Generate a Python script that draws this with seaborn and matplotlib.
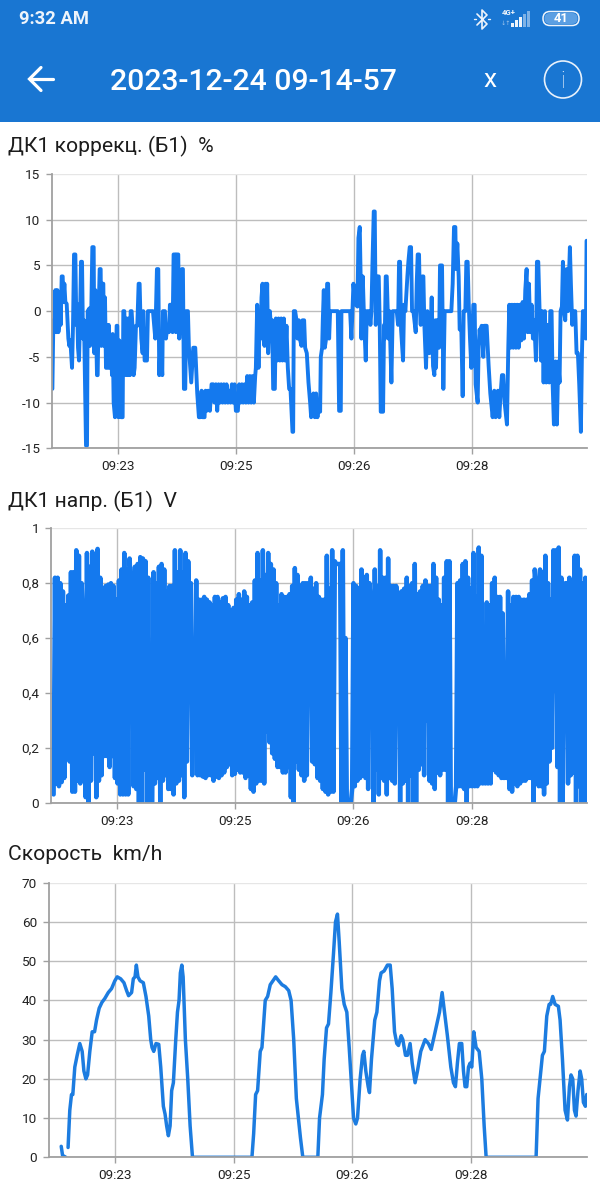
import numpy as np
import pandas as pd
import seaborn as sns
import matplotlib.pyplot as plt
from matplotlib.patches import Rectangle, Circle, FancyBboxPatch

# correction log: sample number from 09:23:00, about 3.93 samples per second
corr_samples = [-198, -195, -192, -189, -185, -183, -180, -177, -175, -173, -170, -167, -165, -162, -159, -155, -150, -147, -144, -139,
    -136, -133, -129, -126, -124, -121, -118, -115, -112, -109, -106, -103, -97, -94, -92, -87, -85, -81, -78, -74,
    -72, -69, -64, -62, -59, -56, -53, -51, -48, -45, -43, -40, -37, -35, -31, -29, -25, -22, -19, -17,
    -14, -10, -5, -3, 0, 3, 8, 13, 15, 18, 23, 25, 29, 31, 35, 37, 40, 43, 46, 49,
    53, 57, 61, 64, 66, 69, 73, 75, 79, 86, 89, 104, 111, 116, 120, 123, 127, 132, 134, 140,
    143, 148, 152, 155, 160, 163, 166, 171, 173, 175, 180, 183, 187, 191, 194, 197, 201, 204, 209, 212,
    219, 225, 231, 237, 242, 246, 250, 253, 259, 262, 265, 270, 275, 280, 285, 289, 293, 297, 301, 305,
    309, 313, 317, 321, 325, 329, 333, 337, 341, 345, 349, 353, 359, 363, 367, 371, 375, 379, 383, 387,
    391, 395, 399, 403, 407, 411, 413, 417, 421, 424, 427, 430, 433, 436, 439, 442, 444, 447, 450, 455,
    458, 462, 465, 470, 473, 477, 481, 485, 489, 493, 497, 501, 505, 509, 513, 517, 523, 525, 527, 531,
    535, 538, 542, 545, 550, 553, 558, 561, 566, 571, 576, 579, 586, 590, 594, 598, 602, 606, 608, 612,
    614, 617, 620, 624, 627, 630, 633, 636, 659, 663, 668, 670, 696, 700, 703, 706, 711, 718, 721, 725,
    728, 730, 734, 738, 743, 746, 754, 757, 760, 763, 767, 770, 773, 777, 782, 785, 788, 795, 798, 800,
    803, 806, 809, 811, 814, 820, 824, 836, 840, 843, 846, 849, 855, 858, 862, 868, 871, 875, 879, 882,
    886, 893, 896, 899, 903, 906, 908, 913, 916, 919, 924, 928, 934, 937, 941, 945, 949, 952, 954, 957,
    963, 966, 972, 976, 980, 1000, 1004, 1008, 1012, 1014, 1018, 1022, 1025, 1030, 1034, 1037, 1042, 1045, 1049, 1052,
    1056, 1060, 1066, 1070, 1073, 1079, 1082, 1085, 1087, 1091, 1096, 1099, 1106, 1112, 1117, 1124, 1129, 1133, 1140, 1144,
    1148, 1152, 1156, 1160, 1163, 1167, 1171, 1174, 1178, 1182, 1186, 1190, 1194, 1198, 1202, 1206, 1210, 1214, 1218, 1222,
    1226, 1229, 1233, 1237, 1241, 1245, 1249, 1254, 1257, 1261, 1265, 1269, 1273, 1277, 1281, 1285, 1289, 1294, 1297, 1301,
    1304, 1308, 1313, 1317, 1321, 1325, 1328, 1332, 1335, 1338, 1342, 1346, 1350, 1356, 1359, 1363, 1367, 1372, 1376, 1380,
    1384, 1389, 1392, 1395, 1399, 1404, 1406]
corr_values = [-8.5, -1, -2.3, 2.3, -2.3, 2.3, -2.3, -1.5, 1.5, -1.5, 3.8, 3.8, 1, 3, 1, 0.8, -3, -3.8, -3.2, -6.2,
    -1.5, 6.2, 6.2, -1.5, 0.8, -4, -5.4, -1, 5.4, 5.4, -3, -1, -14.7, -14.7, 0, 0.3, -3.8, 0.5, 7, 7,
    -4.6, 2.3, -7, -7, 0, 4.6, 4.6, -3.8, 3, 3, -3.8, 1.5, -6.2, -1.5, -6.2, -1.5, -6.2, -3.2, -7, -2.5,
    -10, -11.6, -1.6, -1.6, -11.6, -3.2, -11.6, -11.6, 0, 0, -7, -0.8, -7, -0.8, -7, 0, 0, -2, -7, -6.2,
    -1.6, -1.6, 3, 3, 0, -3, -4.6, 0, -5.4, -5.4, 0, 0, -3, 4.6, 4.6, -7, -3, -7, 0, 0,
    -3, -1.5, -2.3, 0.7, 0.7, -2.3, 6.2, 6.2, -2.3, 6.2, 6.2, -3, 0.7, 4.6, 4.6, -8.5, -8.5, 0, 0, -4,
    -7.8, -4, -4, -9, -11.6, -11.6, -8.7, -11.6, -11.6, -8.7, -10.9, -8.7, -10.9, -8, -8, -10, -8, -10.9, -8, -10,
    -8, -10, -8, -10, -8, -10, -8.7, -10, -8, -10, -8, -10.9, -10.9, -8, -10, -8, -10, -8, -10, -7.1,
    -10, -7.1, -10, -7.1, -10, -7.1, -6.2, 0.7, -6.2, -1.5, -3, 1.5, 3, -3, -3.8, 3, -1.5, 3, -4.6, 0,
    -1.5, -1, -8.5, -8.5, -0.8, -5.4, -0.8, -5.4, -0.8, -5.4, -0.8, -5.4, -1.6, -6.2, -8.5, -8.5, -13.2, -13.2, 0, 0,
    -1, -3, -1, -3, -3.8, -1, -1, -4, -4.6, -7.8, -10, -11.6, -9, -11.6, -9, -11.6, -10, -11, -5, -4,
    -1, 2.3, -4, -3, 3, 3, -3, 0, 0, -10.9, -10.9, 0, 0, -3, 0, 3, 0.8, 0.5, 8, 9.2,
    3, -3, 3.8, -1, -5.4, 0, 0, -1.5, 0, 5, 10.9, 10.9, -1.5, 3.8, 3.8, -1.5, -11, -11, -1.5, -3,
    3.8, 3.8, 0, -3, 0, -7.8, 0, 0, -1.5, 5.4, 5.4, -2, -5.4, 0.7, 0, 3.8, 5.4, 7, 7, 0,
    0, -2.3, 3, 6.2, 6.2, 0, -1.5, 3.8, 3.8, -1.5, -6.2, 0, -4.6, -3, 1.5, -6, -7, -1, -6.2, -1,
    -4, 5, 5, -8.5, 0, 0, 3, 9.2, 9.2, 4.6, 7.4, 3.8, -2, -2, -9.3, 0, 0, 5.4, 5.4, 1,
    -3, -6.2, 0.7, 0.7, -8, -10, -3.8, -2, -3, -1.6, -5, -1.6, -1.6, -6, -9, -11.6, -8.7, -11.6, -8.7, -11.6,
    -9, -7, -7, -10, -11, -12.4, -4, 0.7, -4, 0.7, -4, 0.7, -4, 0.7, -4, 0.7, -3.2, 1, -3, 2.3,
    4.6, -2.3, 3, -2.3, 0.7, -3, -1, -5.4, 5.4, 5.4, 0, -5.4, 0, -7.8, 0, -7.8, -1.5, -7.8, 0, 0,
    -7.8, -12.4, -5.5, -12.4, -5.5, -7.8, 0, 0.5, 5.4, 0, -1, 4.6, 0, 7, 3, -1.5, 0, 0, -4.6, -4.6,
    -8, -13.2, -5, 0, 0, -3, 7.7]

# voltage swings faster than the picture resolves: one low and one high per column
volt_low = [0.03, 0.07, 0.06, 0.075, 0.09, 0.26, 0.15, 0.04, 0.04, 0.08, 0.07, 0.67, 0.02, 0, 0.08, 0.18, 0.02, 0.08, 0.10, 0.17,
    0.17, 0.13, 0.17, 0.09, 0.07, 0.03, 0.03, 0.03, 0.03, 0.78, 0.06, 0.05, 0, 0, 0.12, 0, 0, 0, 0.07, 0.09,
    0, 0.08, 0.10, 0.05, 0.05, 0.03, 0.07, 0.08, 0.10, 0.02, 0.15, 0.60, 0.10, 0.27, 0.10, 0.10, 0.095, 0.09, 0.10, 0.10,
    0.08, 0.095, 0.09, 0.10, 0.11, 0.13, 0.14, 0.10, 0.105, 0.12, 0.11, 0.11, 0.09, 0.10, 0.05, 0.04, 0.07, 0.08, 0.08, 0.07,
    0.26, 0.22, 0.18, 0.16, 0.13, 0.13, 0.11, 0.11, 0.13, 0.02, 0, 0.15, 0.12,
    0.10, 0.08, 0.10, 0.70, 0.15, 0.14, 0.09, 0.08, 0.05, 0.04, 0.03, 0.04, 0.04, 0.87, 0.87, 0, 0, 0, 0, 0.05, 0.06,
    0.08, 0.09, 0.10, 0.09, 0.05, 0.72, 0, 0.12, 0.03, 0.09, 0.08, 0.03, 0.09, 0.08, 0.07, 0.76, 0, 0.07, 0.08, 0,
    0.10, 0, 0, 0.12, 0.14, 0.10, 0.30, 0.08, 0.07, 0.05, 0.11, 0.10, 0.12, 0.12, 0, 0, 0, 0.06, 0.06, 0.06,
    0.05, 0, 0.06, 0.06, 0.06, 0.06, 0.07, 0.07, 0.07, 0.07, 0.07, 0.12, 0.11, 0.10, 0.09, 0.09, 0.09, 0.05, 0.04, 0.07,
    0.06, 0.07, 0.08, 0.08, 0.09, 0.09, 0, 0.80, 0.06, 0.06, 0.03, 0.07, 0.15, 0.20, 0.41, 0.13, 0, 0, 0.80, 0.07,
    0.10, 0.11, 0, 0.06, 0, 0.08, 0, 0.10]
volt_high = [0.82, 0.82, 0.80, 0.77, 0.72, 0.755, 0.84, 0.84, 0.92, 0.90, 0.80, 0.67, 0.91, 0.86, 0.915, 0.75, 0.925, 0.82, 0.77, 0.79,
    0.795, 0.80, 0.79, 0.74, 0.81, 0.85, 0.91, 0.85, 0.89, 0.78, 0.86, 0.87, 0.895, 0.89, 0.88, 0.82, 0, 0.84, 0.80, 0.86,
    0.87, 0.85, 0.77, 0.79, 0.79, 0.92, 0.84, 0.92, 0.84, 0.91, 0.88, 0.80, 0.55, 0.81, 0.74, 0.74, 0.75, 0.74, 0.73, 0.72,
    0.75, 0.75, 0.73, 0.745, 0.75, 0.72, 0.70, 0.71, 0.74, 0.76, 0.74, 0.77, 0.75, 0.72, 0.73, 0.81, 0.91, 0.81, 0.92, 0.83,
    0.91, 0.87, 0.85, 0.80, 0.72, 0.76, 0.75, 0.75, 0.76, 0.79, 0.855, 0.83, 0.79,
    0.80, 0.80, 0.80, 0.82, 0.78, 0.80, 0.75, 0.74, 0.74, 0.90, 0.78, 0.92, 0.88, 0.87, 0.87, 0.92, 0.60, 0, 0, 0.80, 0.79,
    0.78, 0.85, 0.82, 0.83, 0.80, 0.72, 0.85, 0.79, 0.92, 0.82, 0.82, 0.89, 0.79, 0.79, 0.79, 0.76, 0.77, 0.78, 0.82, 0.79,
    0.80, 0.87, 0.76, 0.77, 0.79, 0.81, 0.79, 0.79, 0.87, 0.82, 0.74, 0.72, 0.82, 0.88, 0.88, 0, 0, 0.80, 0.81, 0.87,
    0.88, 0.82, 0.78, 0.91, 0.75, 0.93, 0.90, 0.55, 0.73, 0.72, 0.80, 0.82, 0.75, 0.75, 0.69, 0.50, 0.77, 0.72, 0.75, 0.75,
    0.75, 0.74, 0.74, 0.74, 0.76, 0.81, 0.85, 0.80, 0.85, 0.84, 0.90, 0.80, 0.74, 0.92, 0.92, 0.93, 0.82, 0.62, 0.80, 0.82,
    0.75, 0.90, 0.90, 0.85, 0.80, 0.82, 0.78, 0.78]

# speed in seconds from 09:23:00, the trace has a short break near the start
speed_start_t = [-41, -40, -37.5]
speed_start_v = [2.8, 0.5, 0]
speed_t = [-35.8, -34.5, -33.2, -32.2, -30.7, -28.9, -26.9, -25.1, -23.8, -22.3, -21, -19.3, -17.5, -15.7, -14.2, -12.2, -10.1, -7.9, -5.3, -2.8,
    -0.3, 1.5, 4.1, 6.6, 8.6, 10.1, 12.4, 13.7, 15, 16, 17.2, 18.8, 21.3, 23.3, 25.4, 26.9, 27.9, 29.2, 30.9, 33,
    34.5, 36.5, 37.8, 39, 40.3, 41.6, 42.8, 44.1, 45.9, 47.2, 48.4, 49.4, 50.5, 51.5, 53.2, 55, 56.8, 58.6, 103.7, 105,
    106.5, 108, 110, 111.3, 113.8, 115.6, 117.6, 119.7, 121.7, 124, 126.5, 129, 131.6, 133.4, 135.4, 137.4, 140.5, 142.3, 153.7, 155,
    157.2, 158.5, 160.3, 161.8, 163.6, 165.6, 167.1, 168.6, 169.9, 171.9, 173.7, 175.7, 177.5, 179, 180.8, 182.5, 183.8, 185.8, 187.6, 188.6,
    190.1, 191.9, 192.9, 194.4, 196.9, 198.5, 200.5, 201.7, 204, 206.5, 208.6, 210.1, 211.9, 213.6, 214.9, 216.9, 218.2, 220.2, 221.7, 223.7,
    225.3, 227.5, 229.3, 231.8, 235.1, 237.6, 239.7, 241.4, 244, 246, 248, 249.8, 252, 254.6, 256.6, 258.1, 259.6, 261.1, 262.9, 264.2,
    265.4, 266.7, 268, 269.2, 270.5, 272, 273.8, 276.1, 278.1, 279.9, 281.4, 319.3, 320.8, 322.3, 324.1, 325.6, 327.4, 329.2, 330.4, 331.9,
    333.7, 336.2, 337.5, 339.3, 341.3, 343.1, 344.6, 345.8, 347.1, 348.4, 349.6, 351.1, 352.7, 353.9, 355.2, 356.7, 357.7]
speed_v = [2.5, 12, 16, 16, 23, 26, 29, 27, 22, 20, 21, 27, 32, 32, 35, 38, 39.5, 40.5, 42, 43,
    45, 46, 45.5, 44.5, 42.5, 41.2, 42, 45.5, 46, 49, 46, 45, 44.5, 41, 36, 30, 28, 27, 29, 28.8,
    23, 13, 11, 8, 5.5, 8, 17, 19, 30, 37, 40, 47, 49, 46, 30, 20, 8, 0, 0, 6,
    16, 17, 27, 28, 40, 41, 44, 45, 46, 45, 44, 43.5, 42.5, 40, 30, 15, 5, 0, 0, 10,
    16, 25, 33, 34, 42, 52, 60, 62, 55, 43, 39, 37, 28, 20, 10, 8.5, 10, 20, 26, 27,
    22, 18, 16.5, 25, 35, 37, 45, 47, 47.5, 49, 49, 43, 32, 29, 28.5, 31, 30, 26, 26, 29,
    24, 19, 22, 27, 30, 29, 27.5, 30, 34, 37, 42, 37, 31, 23, 19, 18, 24, 29, 29, 22,
    18, 18, 23, 24, 23, 32, 28, 27, 20, 8, 0, 0, 15, 20, 26, 27, 36, 39, 39, 41,
    39, 38.5, 35, 25, 12, 9.5, 18, 21, 20, 12, 10.5, 17, 22, 20, 14, 13, 16]

time_ticks = [0, 90, 180, 270]
time_labels = ['09:23', '09:25', '09:26', '09:28']
corr_ticks = [-15, -10, -5, 0, 5, 10, 15]
volt_ticks = [0, 0.2, 0.4, 0.6, 0.8, 1]
volt_labels = ['0', '0,2', '0,4', '0,6', '0,8', '1']
speed_ticks = [0, 10, 20, 30, 40, 50, 60, 70]

sns.set_theme(style='white')
plt.rcParams['font.family'] = ['Roboto', 'DejaVu Sans']
plt.rcParams['axes.unicode_minus'] = False

W, H = 600, 1200
BLUE = '#1976D2'
TRACE = '#1479EE'
GRID = '#bdbdbd'
AXIS = '#a0a0a0'
TEXT = '#222222'

fig = plt.figure(figsize=(W / 100, H / 100), dpi=100, facecolor='white')


def make_axes(left, top, right, bottom, xlim, ylim, yticks, ylabels=None):
    ax = fig.add_axes([left / W, 1 - bottom / H, (right - left) / W, (bottom - top) / H])
    ax.set_xlim(*xlim)
    ax.set_ylim(*ylim)
    ax.set_xticks(time_ticks)
    ax.set_xticklabels(time_labels)
    ax.set_yticks(yticks)
    if ylabels:
        ax.set_yticklabels(ylabels)
    ax.grid(True, color=GRID, linewidth=1.0)
    ax.get_ygridlines()[-1].set_color('#e6e6e6')
    ax.set_axisbelow(True)
    ax.tick_params(axis='both', length=4.5, width=1.0, color=AXIS, labelsize=9.7,
                   labelcolor=TEXT, pad=4, bottom=True, left=True)
    for side in ['top', 'right']:
        ax.spines[side].set_visible(False)
    for side in ['left', 'bottom']:
        ax.spines[side].set_color(AXIS)
        ax.spines[side].set_linewidth(1.3)
    return ax


def draw(ax, t, v, color=TRACE, lw=2.8):
    df = pd.DataFrame({'t': t, 'v': v})
    sns.lineplot(data=df, x='t', y='v', ax=ax, sort=False, estimator=None, errorbar=None,
                 color=color, linewidth=lw, solid_joinstyle='round')
    ax.set_xlabel('')
    ax.set_ylabel('')


# chart 1
ax1 = make_axes(52.3, 174, 586.7, 448.3, (-50.4, 357.6), (-15, 15), corr_ticks)
draw(ax1, np.array(corr_samples) / 3.933, corr_values)

# chart 2
col_t = np.arange(len(volt_low)) * 2.028 - 48
volt_t = np.column_stack([col_t, col_t + 1.014]).ravel()
volt_v = np.column_stack([volt_low, volt_high]).ravel()
ax2 = make_axes(51, 528.3, 586.7, 802.7, (-50, 357.6), (0, 1), volt_ticks, volt_labels)
draw(ax2, volt_t, volt_v, lw=3.2)

# chart 3
ax3 = make_axes(48.7, 882.7, 586.7, 1157.3, (-50.5, 357.7), (0, 70), speed_ticks)
draw(ax3, speed_start_t, speed_start_v, color='#1c7ce0', lw=2.5)
draw(ax3, speed_t, speed_v, color='#1c7ce0', lw=2.5)

# app chrome drawn in pixel coordinates
ui = fig.add_axes([0, 0, 1, 1], zorder=5)
ui.set_xlim(0, W)
ui.set_ylim(H, 0)
ui.axis('off')
ui.patch.set_alpha(0)
ui.add_patch(Rectangle((0, 0), W, 122, color=BLUE, lw=0))

ui.text(19, 19, '9:32 AM', color='#eef4fb', fontsize=13.2, fontweight='bold', va='center')
ui.text(110, 82, '2023-12-24 09-14-57', color='white', fontsize=21.7, fontweight='medium', va='center')
ui.text(490, 80, 'x', color='white', fontsize=19, va='center', ha='center')

# back arrow
ui.plot([30, 53], [79, 79], color='white', lw=2.3, solid_capstyle='round')
ui.plot([41, 29.5, 41], [67.5, 79, 90.5], color='white', lw=2.3, solid_capstyle='round', solid_joinstyle='miter')

# info button
ui.add_patch(Circle((563, 79.5), 18.5, fill=False, ec='#e8f1fb', lw=1.2))
ui.text(563, 81, 'i', color='#e8f1fb', fontsize=17, ha='center', va='center', fontweight='light')

# bluetooth
ui.plot([477, 487, 482, 482, 487, 477], [14, 24, 29, 10, 15, 25], color='#eef4fb', lw=1.2)
ui.plot([474, 476], [19, 19], color='#eef4fb', lw=1.0)
ui.plot([488, 490], [19, 19], color='#eef4fb', lw=1.0)

# signal and network
ui.text(502, 12.5, '4G+', color='#eef4fb', fontsize=5.6, fontweight='bold', va='center')
ui.text(501, 23, '↓↑', color='#9fc5ec', fontsize=4.5, va='center', family=['DejaVu Sans'])
for bx, bh, col in [(511, 4, '#eef4fb'), (515, 7, '#eef4fb'), (519, 10, '#eef4fb'), (523, 13, '#7fb2e6'), (527, 16, '#7fb2e6')]:
    ui.add_patch(Rectangle((bx, 27 - bh), 2.6, bh, color=col, lw=0))

# battery
ui.add_patch(FancyBboxPatch((543, 11.5), 36, 14, boxstyle='round,pad=0,rounding_size=7', fill=False, ec='#eef4fb', lw=1.1))
ui.add_patch(FancyBboxPatch((544.5, 13), 33, 11, boxstyle='round,pad=0,rounding_size=5.5', fc='#5b9fe3', ec='none'))
ui.text(561, 18.8, '41', color='white', fontsize=9.3, fontweight='bold', ha='center', va='center')

# chart headings
for y, label in [(146, 'ДК1 коррекц. (Б1)  %'), (501, 'ДК1 напр. (Б1)  V'), (855, 'Скорость  km/h')]:
    ui.text(8, y, label, color='#1c1c1c', fontsize=15.2, va='center')

fig.savefig('out.png', dpi=100)
